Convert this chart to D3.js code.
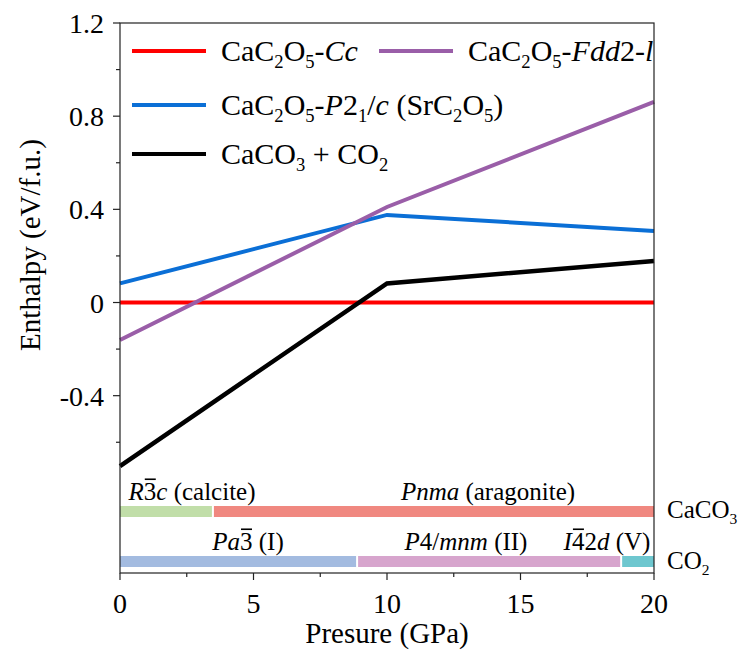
<!DOCTYPE html>
<html>
<head>
<meta charset="utf-8">
<script src="https://cdn.jsdelivr.net/npm/d3@7"></script>
<style>
  body { margin: 0; background: #fff; }
  svg text { font-family: 'Liberation Serif', 'Times New Roman', Times, serif; }
</style>
</head>
<body>
<svg id="chart" width="747" height="654"></svg>
<script>
const svg = d3.select("#chart");
const FONT = "'Liberation Serif', 'Times New Roman', Times, serif";

// pressure points (GPa)
const pressure = [0, 10, 20];
// enthalpy relative to CaC2O5-Cc (eV/f.u.)
const hCc = [0, 0, 0];
const hFdd = [-0.161, 0.41, 0.861];
const hP21c = [0.082, 0.376, 0.307];
const hCaCO3CO2 = [-0.702, 0.082, 0.178];

const seriesColors = ["#ff0000", "#9a5ea8", "#0b6fd6", "#000000"];

// phase ranges at the bottom (GPa)
const caco3Phases = [
    { from: 0, to: 3.48, color: "#c1dea9" },
    { from: 3.48, to: 20, color: "#f08880" }
];
const co2Phases = [
    { from: 0, to: 8.88, color: "#a3bbe0" },
    { from: 8.88, to: 18.77, color: "#d7a5cd" },
    { from: 18.77, to: 20, color: "#6ec7cf" }
];

const yTicks = [1.2, 0.8, 0.4, 0, -0.4];
const yMinor = [1.0, 0.6, 0.2, -0.2, -0.6];
const xTicks = [0, 5, 10, 15, 20];
const xMinor = [2.5, 7.5, 12.5, 17.5];

const L = 120, R = 654, T = 23, B = 573;
const x = d3.scaleLinear().domain([0, 20]).range([L, R]);
const y = d3.scaleLinear().domain([-1.1613, 1.2]).range([B, T]);

const g = svg.append("g").attr("font-family", FONT);

// rich text: segments {t, i (italic), sub, over}
function rich(parent, px, py, segs, size, anchor) {
    const t = parent.append("text").attr("x", px).attr("y", py).attr("font-family", FONT)
        .attr("font-size", size).attr("text-anchor", anchor || "start").attr("fill", "#000");
    const overs = [];
    let idx = 0, shifted = 0;
    segs.forEach(s => {
        const ts = t.append("tspan").text(s.t);
        if (s.i) ts.attr("font-style", "italic");
        const want = s.sub ? size * 0.22 : 0;
        if (want !== shifted) { ts.attr("dy", want - shifted); shifted = want; }
        if (s.sub) ts.attr("font-size", size * 0.62);
        if (s.over) overs.push(idx);
        idx += s.t.length;
    });
    overs.forEach(k => {
        const e = t.node().getExtentOfChar(k);
        parent.append("line")
            .attr("x1", e.x + 1).attr("x2", e.x + e.width - 0.5)
            .attr("y1", py - size * 0.83).attr("y2", py - size * 0.83)
            .attr("stroke", "#000").attr("stroke-width", 1.6);
    });
    return t;
}

// phase bars
const barH = 11;
const rowY = { caco3: 506, co2: 556 };
[[caco3Phases, rowY.caco3], [co2Phases, rowY.co2]].forEach(([ph, ry]) => {
    g.selectAll(null).data(ph).enter().append("rect")
        .attr("x", (d, i) => x(d.from) + (i === 0 ? 0 : 1))
        .attr("width", (d, i) => x(d.to) - x(d.from) - (i === 0 ? 0 : 1) - (i === ph.length - 1 ? 0 : 1))
        .attr("y", ry).attr("height", barH)
        .attr("fill", d => d.color);
});

// lines
const series = [hCc, hP21c, hFdd, hCaCO3CO2];
const sColors = [seriesColors[0], seriesColors[2], seriesColors[1], seriesColors[3]];
const line = d3.line().x((d, i) => x(pressure[i])).y(d => y(d));
series.forEach((s, k) => {
    g.append("path").datum(s).attr("d", line).attr("fill", "none")
        .attr("stroke", sColors[k]).attr("stroke-width", k === 3 ? 4.5 : 4)
        .attr("stroke-linejoin", "miter");
});

// frame
g.append("rect").attr("x", L).attr("y", T).attr("width", R - L).attr("height", B - T)
    .attr("fill", "none").attr("stroke", "#222").attr("stroke-width", 1.2);

// y ticks
yTicks.forEach(v => {
    g.append("line").attr("x1", L - 7).attr("x2", L).attr("y1", y(v)).attr("y2", y(v)).attr("stroke", "#222").attr("stroke-width", 1.2);
    g.append("text").attr("x", 104).attr("y", y(v) + 10).attr("text-anchor", "end")
        .attr("font-size", 28).text(String(v));
});
yMinor.forEach(v => {
    g.append("line").attr("x1", L - 4).attr("x2", L).attr("y1", y(v)).attr("y2", y(v)).attr("stroke", "#222").attr("stroke-width", 1.2);
});
// x ticks
xTicks.forEach(v => {
    g.append("line").attr("x1", x(v)).attr("x2", x(v)).attr("y1", B).attr("y2", B + 7).attr("stroke", "#222").attr("stroke-width", 1.2);
    g.append("text").attr("x", x(v)).attr("y", 613).attr("text-anchor", "middle").attr("font-size", 28).text(v);
});
xMinor.forEach(v => {
    g.append("line").attr("x1", x(v)).attr("x2", x(v)).attr("y1", B).attr("y2", B + 4).attr("stroke", "#222").attr("stroke-width", 1.2);
});

// axis titles
g.append("text").attr("x", (L + R) / 2).attr("y", 643).attr("text-anchor", "middle")
    .attr("font-size", 29).text("Presure (GPa)");
g.append("text").attr("transform", "translate(40,245) rotate(-90)").attr("text-anchor", "middle")
    .attr("font-size", 29).text("Enthalpy (eV/f.u.)");

// legend
const lg = g.append("g");
const legendItems = [
    { x: 132, y: 51, c: seriesColors[0], segs: [{ t: "CaC" }, { t: "2", sub: 1 }, { t: "O" }, { t: "5", sub: 1 }, { t: "-" }, { t: "Cc", i: 1 }] },
    { x: 379, y: 51, c: seriesColors[1], segs: [{ t: "CaC" }, { t: "2", sub: 1 }, { t: "O" }, { t: "5", sub: 1 }, { t: "-" }, { t: "Fdd", i: 1 }, { t: "2-" }, { t: "l", i: 1 }] },
    { x: 132, y: 105, c: seriesColors[2], segs: [{ t: "CaC" }, { t: "2", sub: 1 }, { t: "O" }, { t: "5", sub: 1 }, { t: "-" }, { t: "P", i: 1 }, { t: "2" }, { t: "1", sub: 1 }, { t: "/" }, { t: "c", i: 1 }, { t: " (SrC" }, { t: "2", sub: 1 }, { t: "O" }, { t: "5", sub: 1 }, { t: ")" }] },
    { x: 132, y: 154, c: seriesColors[3], segs: [{ t: "CaCO" }, { t: "3", sub: 1 }, { t: " + CO" }, { t: "2", sub: 1 }] }
];
legendItems.forEach(d => {
    lg.append("line").attr("x1", d.x).attr("x2", d.x + 74).attr("y1", d.y).attr("y2", d.y)
        .attr("stroke", d.c).attr("stroke-width", 4);
    rich(lg, d.x + 89, d.y + 10, d.segs, 30, "start");
});

// phase labels
const phaseLabels = [
    { x: 192, y: 500, segs: [{ t: "R", i: 1 }, { t: "3", over: 1 }, { t: "c", i: 1 }, { t: " (calcite)" }] },
    { x: 488, y: 500, segs: [{ t: "Pnma", i: 1 }, { t: " (aragonite)" }] },
    { x: 248, y: 550, segs: [{ t: "Pa", i: 1 }, { t: "3", over: 1 }, { t: " (I)" }] },
    { x: 466, y: 550, segs: [{ t: "P", i: 1 }, { t: "4/" }, { t: "mnm", i: 1 }, { t: " (II)" }] },
    { x: 607, y: 550, segs: [{ t: "I", i: 1 }, { t: "4", over: 1 }, { t: "2" }, { t: "d", i: 1 }, { t: " (V)" }] }
];
phaseLabels.forEach(d => rich(g, d.x, d.y, d.segs, 25, "middle"));

rich(g, 667, 518, [{ t: "CaCO" }, { t: "3", sub: 1 }], 25, "start");
rich(g, 667, 569, [{ t: "CO" }, { t: "2", sub: 1 }], 25, "start");
</script>
</body>
</html>
